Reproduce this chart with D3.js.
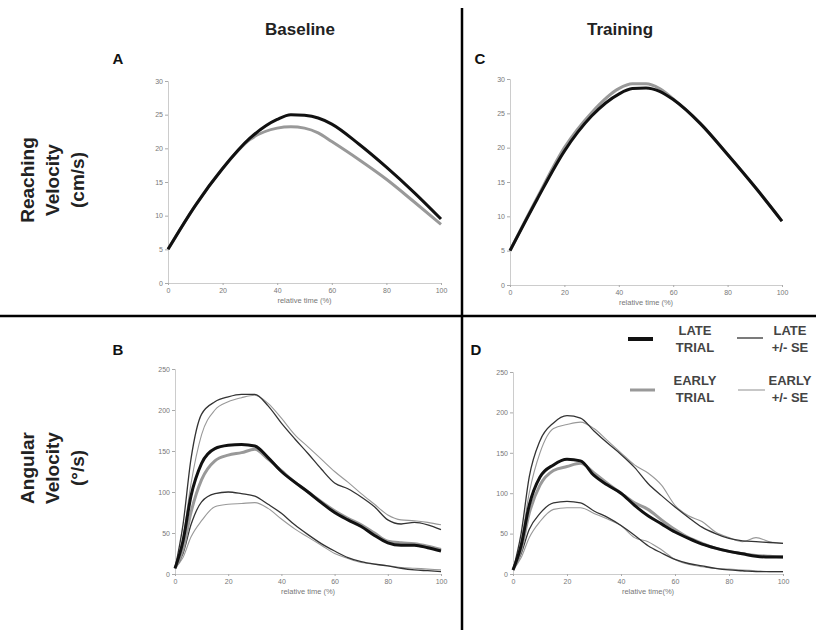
<!DOCTYPE html>
<html>
<head>
<meta charset="utf-8">
<script src="https://cdn.jsdelivr.net/npm/d3@7"></script>
<style>
  body { margin: 0; background: #fff; }
  text { font-family: "Liberation Sans", Arial, sans-serif; }
</style>
</head>
<body>
<div id="chart"></div>
<script>
// reaching velocity (cm/s), panels A and C
var reachTime = [0, 10, 20, 30, 40, 45, 50, 55, 60, 70, 80, 90, 100];
var reachBaseLate  = [5, 11.5, 17, 21.5, 24.3, 25, 24.9, 24.5, 23.6, 20.6, 17.2, 13.5, 9.5];
var reachBaseEarly = [5, 11.5, 17, 21.3, 23, 23.2, 23, 22.3, 21, 18.3, 15.4, 12.1, 8.7];
var reachTrainLate  = [5, 12.5, 19.5, 24.6, 27.8, 28.6, 28.7, 28.2, 27, 23.5, 19, 14.3, 9.3];
var reachTrainEarly = [5, 12.7, 20, 25.1, 28.6, 29.3, 29.3, 28.6, 27.1, 23.5, 19, 14.3, 9.3];

// angular velocity (deg/s), panels B and D
var angTime = [0, 3, 6, 10, 15, 20, 25, 30, 35, 40, 45, 50, 55, 60, 65, 70, 75, 80, 85, 90, 95, 100];
var angBaseLate       = [7, 40, 95, 135, 153, 157, 158, 156, 142, 125, 112, 100, 87, 75, 66, 58, 47, 38, 35, 35, 32, 28];
var angBaseLateUp     = [7, 60, 140, 195, 210, 216, 219, 219, 205, 184, 165, 147, 128, 111, 104, 94, 82, 66, 61, 63, 60, 54];
var angBaseLateLow    = [7, 25, 60, 88, 98, 100, 98, 95, 85, 74, 60, 48, 37, 28, 20, 15, 12, 10, 7, 5, 4, 3];
var angBaseEarly      = [7, 30, 75, 115, 138, 145, 148, 152, 140, 126, 112, 100, 88, 77, 68, 60, 50, 40, 38, 37, 34, 30];
var angBaseEarlyUp    = [7, 45, 110, 170, 200, 210, 215, 218, 208, 190, 170, 155, 140, 125, 112, 98, 85, 72, 66, 65, 63, 60];
var angBaseEarlyLow   = [7, 20, 45, 65, 82, 85, 86, 87, 80, 67, 55, 45, 35, 25, 19, 14, 12, 10, 8, 7, 6, 5];
var angTrainLate      = [5, 35, 85, 120, 135, 142, 140, 122, 110, 100, 85, 72, 62, 52, 44, 37, 32, 28, 25, 22, 21, 21];
var angTrainLateUp    = [5, 50, 120, 165, 187, 196, 193, 177, 162, 148, 132, 112, 97, 83, 70, 58, 50, 44, 41, 40, 39, 38];
var angTrainLateLow   = [5, 25, 55, 75, 88, 90, 88, 78, 70, 60, 48, 35, 26, 18, 13, 10, 7, 5, 4, 3, 3, 3];
var angTrainEarly     = [5, 30, 75, 110, 128, 133, 137, 125, 112, 100, 88, 80, 67, 55, 45, 38, 32, 28, 25, 23, 22, 21];
var angTrainEarlyUp   = [5, 40, 100, 150, 180, 185, 188, 180, 165, 150, 135, 125, 110, 85, 72, 65, 52, 45, 40, 45, 40, 38];
var angTrainEarlyLow  = [5, 20, 45, 65, 80, 82, 82, 75, 68, 60, 45, 40, 30, 18, 12, 9, 7, 6, 5, 4, 3, 3];

var reachTicks = [0, 5, 10, 15, 20, 25, 30];
var angTicks = [0, 50, 100, 150, 200, 250];
var timeTicks = [0, 20, 40, 60, 80, 100];

var width = 816, height = 630;

var svg = d3.select('#chart').append('svg')
  .attr('width', width)
  .attr('height', height);

var styles = {
  lateMean:  { stroke: '#111', width: 3 },
  lateSE:    { stroke: '#333', width: 1.3 },
  earlyMean: { stroke: '#999', width: 3 },
  earlySE:   { stroke: '#999', width: 1.1 }
};

function panel(opt) {
  var x = d3.scaleLinear().domain([0, 100]).range([opt.x0, opt.x1]);
  var y = d3.scaleLinear().domain([0, opt.ymax]).range([opt.y0, opt.y1]);
  var g = svg.append('g');

  var yAxis = g.append('g')
    .attr('transform', 'translate(' + opt.x0 + ',0)')
    .call(d3.axisLeft(y).tickValues(opt.yticks).tickSize(3).tickPadding(2));
  var xAxis = g.append('g')
    .attr('transform', 'translate(0,' + opt.y0 + ')')
    .call(d3.axisBottom(x).tickValues(timeTicks).tickSize(2).tickPadding(3));
  [xAxis, yAxis].forEach(function(a) {
    a.select('.domain').attr('stroke', '#ccc');
    a.selectAll('.tick line').attr('stroke', '#aaa');
    a.selectAll('.tick text').attr('fill', '#777').style('font-size', '7px');
  });

  g.append('text')
    .attr('x', (opt.x0 + opt.x1) / 2)
    .attr('y', opt.y0 + 20)
    .attr('text-anchor', 'middle')
    .attr('fill', '#777')
    .style('font-size', '7.5px')
    .text(opt.xlabel);

  var line = d3.line()
    .x(function(d) { return x(d[0]); })
    .y(function(d) { return y(d[1]); })
    .curve(d3.curveMonotoneX);

  opt.series.forEach(function(s) {
    var st = styles[s.style];
    g.append('path')
      .datum(d3.zip(opt.time, s.values))
      .attr('d', line)
      .attr('fill', 'none')
      .attr('stroke', st.stroke)
      .attr('stroke-width', st.width)
      .attr('stroke-linejoin', 'round');
  });
}

panel({ x0: 168, x1: 441, y0: 283, y1: 81, ymax: 30, yticks: reachTicks,
  time: reachTime, xlabel: 'relative time (%)',
  series: [{ values: reachBaseEarly, style: 'earlyMean' }, { values: reachBaseLate, style: 'lateMean' }] });

panel({ x0: 510, x1: 782, y0: 285, y1: 79, ymax: 30, yticks: reachTicks,
  time: reachTime, xlabel: 'relative time (%)',
  series: [{ values: reachTrainEarly, style: 'earlyMean' }, { values: reachTrainLate, style: 'lateMean' }] });

panel({ x0: 175, x1: 441, y0: 574, y1: 369, ymax: 250, yticks: angTicks,
  time: angTime, xlabel: 'relative time (%)',
  series: [
    { values: angBaseEarlyUp, style: 'earlySE' }, { values: angBaseEarlyLow, style: 'earlySE' },
    { values: angBaseLateUp, style: 'lateSE' }, { values: angBaseLateLow, style: 'lateSE' },
    { values: angBaseEarly, style: 'earlyMean' }, { values: angBaseLate, style: 'lateMean' }] });

panel({ x0: 513, x1: 783, y0: 574, y1: 372, ymax: 250, yticks: angTicks,
  time: angTime, xlabel: 'relative time(%)',
  series: [
    { values: angTrainEarlyUp, style: 'earlySE' }, { values: angTrainEarlyLow, style: 'earlySE' },
    { values: angTrainLateUp, style: 'lateSE' }, { values: angTrainLateLow, style: 'lateSE' },
    { values: angTrainEarly, style: 'earlyMean' }, { values: angTrainLate, style: 'lateMean' }] });

// divider lines
svg.append('line').attr('x1', 462).attr('x2', 462).attr('y1', 8).attr('y2', height)
  .attr('stroke', '#000').attr('stroke-width', 2.5);
svg.append('line').attr('x1', 0).attr('x2', width).attr('y1', 316).attr('y2', 316)
  .attr('stroke', '#000').attr('stroke-width', 2.5);

// column titles
[['Baseline', 300], ['Training', 620]].forEach(function(t) {
  svg.append('text').attr('x', t[1]).attr('y', 35).attr('text-anchor', 'middle')
    .style('font-size', '17px').style('font-weight', 'bold').attr('fill', '#222').text(t[0]);
});

// panel letters
[['A', 118, 64], ['C', 480, 64], ['B', 118, 355], ['D', 476, 355]].forEach(function(t) {
  svg.append('text').attr('x', t[1]).attr('y', t[2]).attr('text-anchor', 'middle')
    .style('font-size', '15px').style('font-weight', 'bold').attr('fill', '#111').text(t[0]);
});

// row labels
function rowLabel(lines, cy) {
  lines.forEach(function(s, i) {
    svg.append('text')
      .attr('transform', 'translate(' + (34 + i * 25) + ',' + cy + ') rotate(-90)')
      .attr('text-anchor', 'middle')
      .style('font-size', '19px').style('font-weight', 'bold').attr('fill', '#222')
      .text(s);
  });
}
rowLabel(['Reaching', 'Velocity', '(cm/s)'], 180);
rowLabel(['Angular', 'Velocity', '(°/s)'], 468);

// legend
var legend = [
  { x1: 628, x2: 653, y: 339, style: 'lateMean', tx: 695, lines: ['LATE', 'TRIAL'], ty: 335 },
  { x1: 737, x2: 763, y: 338, style: 'lateSE', tx: 790, lines: ['LATE', '+/- SE'], ty: 335 },
  { x1: 630, x2: 655, y: 390, style: 'earlyMean', tx: 695, lines: ['EARLY', 'TRIAL'], ty: 385 },
  { x1: 738, x2: 765, y: 390, style: 'earlySE', tx: 790, lines: ['EARLY', '+/- SE'], ty: 385 }
];
legend.forEach(function(l) {
  var st = styles[l.style];
  svg.append('line').attr('x1', l.x1).attr('x2', l.x2).attr('y1', l.y).attr('y2', l.y)
    .attr('stroke', st.stroke).attr('stroke-width', l.style === 'lateMean' ? 4 : st.width);
  l.lines.forEach(function(s, i) {
    svg.append('text').attr('x', l.tx).attr('y', l.ty + i * 17).attr('text-anchor', 'middle')
      .style('font-size', '13px').style('font-weight', 'bold').attr('fill', '#444').text(s);
  });
});
</script>
</body>
</html>
